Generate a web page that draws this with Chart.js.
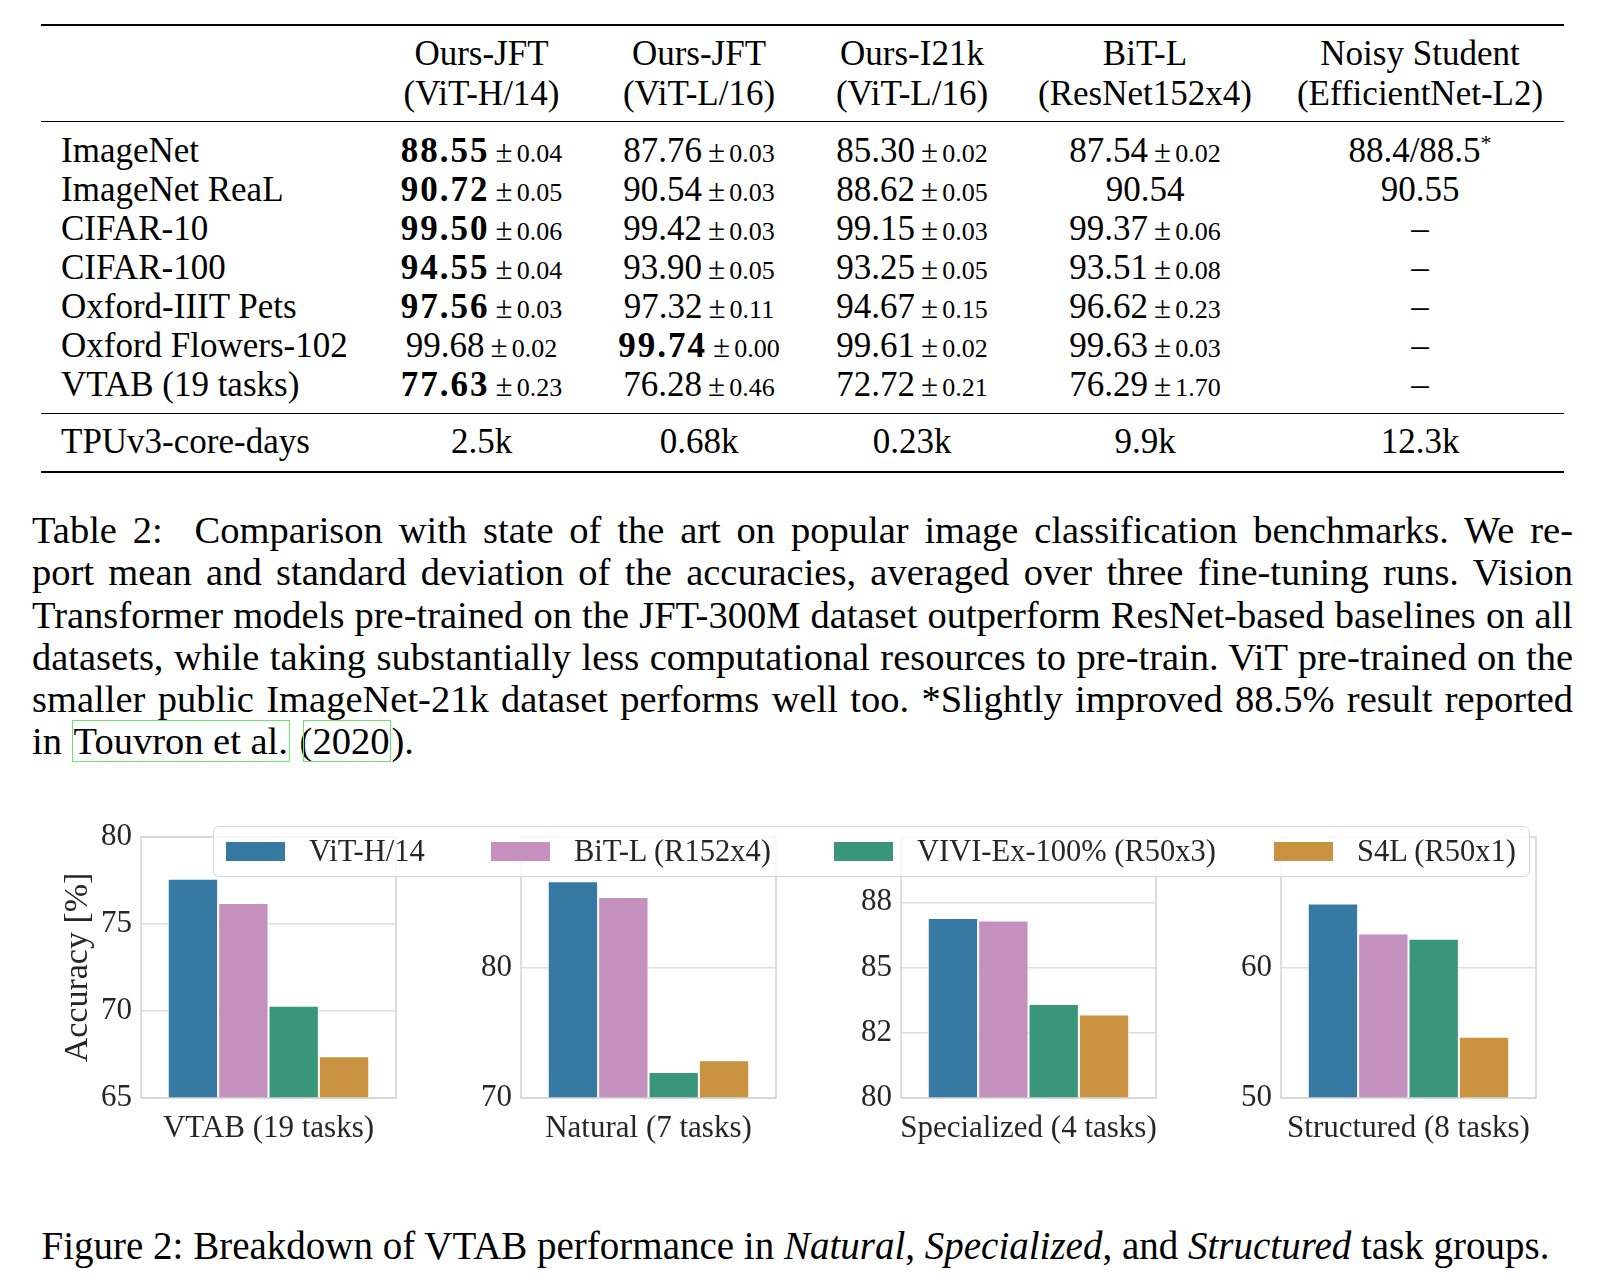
<!DOCTYPE html>
<html>
<head>
<meta charset="utf-8">
<script src="https://cdn.jsdelivr.net/npm/chart.js@4.4.1/dist/chart.umd.min.js"></script>
<style>
  html, body { margin: 0; padding: 0; background: #fff; }
  body { position: relative; width: 1610px; height: 1274px; overflow: hidden;
         font-family: "Liberation Serif", "DejaVu Serif", serif; color: #000; }
  .rule { position: absolute; left: 41px; width: 1523px; height: 1.3px; background: #000; }
  .rule.thick { height: 2px; }
  .row { position: absolute; left: 41px; width: 1523px; height: 39px; line-height: 39px;
         font-size: 35px; display: flex; white-space: nowrap; }
  .row > div { text-align: center; flex: none; }
  .row > div:nth-child(1) { width: 334px; text-align: left; padding-left: 20px; box-sizing: border-box; }
  .row > div:nth-child(2) { width: 213px; }
  .row > div:nth-child(3) { width: 222px; }
  .row > div:nth-child(4) { width: 204px; }
  .row > div:nth-child(5) { width: 262px; }
  .row > div:nth-child(6) { width: 288px; }
  .sd { font-size: 26px; margin-left: 6px; }
  .pm { font-size: 31px; margin-right: 4px; }
  b { letter-spacing: 2px; }
  sup { font-size: 22px; vertical-align: 12px; line-height: 0; }
  .cap { position: absolute; left: 32px; width: 1541px; font-size: 38.5px; word-spacing: -3px; }
  .cap div { height: 42.3px; line-height: 42.3px; text-align: justify; text-align-last: justify; }
  .cap div.last { text-align-last: left; word-spacing: 0; }
  .cite { outline: 1.5px solid #6ee36e; outline-offset: -1px; padding: 0 2px; }
  #figcap { position: absolute; left: 0; width: 1591px; top: 1225px; text-align: center;
            font-size: 39px; line-height: 42px; white-space: nowrap; }
  .plot { position: absolute; }
  #legend { position: absolute; left: 213px; top: 826px; width: 1317px; height: 51px;
            box-sizing: border-box; border: 1.5px solid #d6d6d6; border-radius: 6px;
            background: rgba(255,255,255,0.8); display: flex; align-items: center;
            padding-left: 12px; z-index: 2; font-size: 30.5px; color: #262626; white-space: nowrap; }
  #legend .item { display: flex; align-items: center; flex: none; }
  #legend .item:nth-child(1) { width: 265px; }
  #legend .item:nth-child(2) { width: 343px; }
  #legend .item:nth-child(3) { width: 440px; }
  #legend .patch { width: 59px; height: 19px; margin-right: 24px; }
</style>
</head>
<body>

<div class="rule thick" style="top:24px"></div>
<div class="row" style="top:34px"><div></div><div>Ours-JFT</div><div>Ours-JFT</div><div>Ours-I21k</div><div>BiT-L</div><div>Noisy Student</div></div>
<div class="row" style="top:74px"><div></div><div>(ViT-H/14)</div><div>(ViT-L/16)</div><div>(ViT-L/16)</div><div>(ResNet152x4)</div><div>(EfficientNet-L2)</div></div>
<div class="rule" style="top:121px"></div>
<div id="tbody"></div>
<div class="rule" style="top:412.5px"></div>
<div class="row" style="top:422px"><div>TPUv3-core-days</div><div>2.5k</div><div>0.68k</div><div>0.23k</div><div>9.9k</div><div>12.3k</div></div>
<div class="rule thick" style="top:470.5px"></div>

<div class="cap" style="top:509px">
  <div>Table 2:<span style="margin-left:16px"></span> Comparison with state of the art on popular image classification benchmarks. We re-</div>
  <div>port mean and standard deviation of the accuracies, averaged over three fine-tuning runs. Vision</div>
  <div>Transformer models pre-trained on the JFT-300M dataset outperform ResNet-based baselines on all</div>
  <div>datasets, while taking substantially less computational resources to pre-train. ViT pre-trained on the</div>
  <div>smaller public ImageNet-21k dataset performs well too. *Slightly improved 88.5% result reported</div>
  <div class="last">in <span class="cite">Touvron et al.</span> (<span class="cite" style="margin-left:-9px;padding-left:9px">2020</span>).</div>
</div>

<div id="legend"></div>
<div id="plots"></div>

<div id="figcap">Figure 2: Breakdown of VTAB performance in <i>Natural</i>, <i>Specialized</i>, and <i>Structured</i> task groups.</div>

<script>
// Table 2 rows: [name, ...cells]; cell = [mean, sd, bold]
const tableRows = [
  ['ImageNet',            ['88.55', '0.04', 1], ['87.76', '0.03'], ['85.30', '0.02'], ['87.54', '0.02'], '88.4/88.5<sup>*</sup>'],
  ['ImageNet ReaL',       ['90.72', '0.05', 1], ['90.54', '0.03'], ['88.62', '0.05'], '90.54', '90.55'],
  ['CIFAR-10',            ['99.50', '0.06', 1], ['99.42', '0.03'], ['99.15', '0.03'], ['99.37', '0.06'], '–'],
  ['CIFAR-100',           ['94.55', '0.04', 1], ['93.90', '0.05'], ['93.25', '0.05'], ['93.51', '0.08'], '–'],
  ['Oxford-IIIT Pets',    ['97.56', '0.03', 1], ['97.32', '0.11'], ['94.67', '0.15'], ['96.62', '0.23'], '–'],
  ['Oxford Flowers-102',  ['99.68', '0.02'], ['99.74', '0.00', 1], ['99.61', '0.02'], ['99.63', '0.03'], '–'],
  ['VTAB (19 tasks)',     ['77.63', '0.23', 1], ['76.28', '0.46'], ['72.72', '0.21'], ['76.29', '1.70'], '–'],
];

// Figure 2 data
const groups = ['VTAB (19 tasks)', 'Natural (7 tasks)', 'Specialized (4 tasks)', 'Structured (8 tasks)'];
const models = ['ViT-H/14', 'BiT-L (R152x4)', 'VIVI-Ex-100% (R50x3)', 'S4L (R50x1)'];
const colors = ['#3679a3', '#c490bd', '#3a967a', '#c89240'];
const vitH = [77.6, 86.6, 86.9, 64.9];
const bitL = [76.2, 85.4, 86.8, 62.6];
const vivi = [70.3, 72.0, 83.6, 62.2];
const s4l  = [67.4, 72.9, 83.2, 54.7];
const yMin = [65, 70, 80, 50];
const yMax = [80, 90, 90, 70];
const yTicks = [[65, 70, 75, 80], [70, 80], [80, 82.5, 85, 87.5], [50, 60]];
const yTickLabels = [['65', '70', '75', '80'], ['70', '80'], ['80', '82', '85', '88'], ['50', '60']];
const series = [vitH, bitL, vivi, s4l];

// table body
const tbody = document.getElementById('tbody');
tableRows.forEach((r, i) => {
  const row = document.createElement('div');
  row.className = 'row';
  row.style.top = (130.5 + 39 * i) + 'px';
  row.innerHTML = r.map((c, j) => {
    if (j === 0 || typeof c === 'string') return `<div>${c}</div>`;
    const mean = c[2] ? `<b>${c[0]}</b>` : c[0];
    return `<div>${mean}<span class="sd"><span class="pm">±</span>${c[1]}</span></div>`;
  }).join('');
  tbody.appendChild(row);
});

// legend
document.getElementById('legend').innerHTML = models.map((m, k) =>
  `<div class="item"><div class="patch" style="background:${colors[k]}"></div>${m}</div>`).join('');

Chart.defaults.font.family = '"Liberation Serif", "DejaVu Serif", serif';
Chart.defaults.color = '#262626';

const frame = {
  id: 'frame',
  afterDatasetsDraw(chart) {
    const { ctx, chartArea: a } = chart;
    ctx.save();
    ctx.strokeStyle = '#d4d4d4';
    ctx.lineWidth = 1.5;
    ctx.strokeRect(a.left, a.top, a.right - a.left, a.bottom - a.top);
    ctx.restore();
  },
};

const plotLefts = [141, 521, 901, 1281];
const plotW = 255, plotH = 261, plotTop = 837;
const axisW = 100, padTop = 40, padRight = 45, axisH = 50;

groups.forEach((g, i) => {
  const canvas = document.createElement('canvas');
  canvas.className = 'plot';
  canvas.width = axisW + plotW + padRight;
  canvas.height = padTop + plotH + axisH;
  canvas.style.left = (plotLefts[i] - axisW) + 'px';
  canvas.style.top = (plotTop - padTop) + 'px';
  document.getElementById('plots').appendChild(canvas);

  new Chart(canvas, {
    type: 'bar',
    data: {
      labels: [g],
      datasets: models.map((m, k) => ({
        label: m,
        data: [series[k][i]],
        backgroundColor: colors[k],
        borderColor: '#ffffff',
        borderWidth: 1,
        categoryPercentage: 0.79,
        barPercentage: 1,
      })),
    },
    options: {
      responsive: false,
      animation: false,
      devicePixelRatio: 1,
      layout: { padding: { top: padTop, right: padRight, left: 0, bottom: 0 } },
      plugins: { legend: { display: false }, tooltip: { enabled: false } },
      scales: {
        x: {
          grid: { display: false },
          border: { display: false },
          ticks: { font: { size: 31 }, color: '#262626', padding: 4, maxRotation: 0 },
          afterFit: (s) => { s.height = axisH; },
        },
        y: {
          min: yMin[i],
          max: yMax[i],
          grid: { color: '#dddddd', lineWidth: 1.5, drawTicks: false },
          border: { display: false },
          afterBuildTicks: (s) => { s.ticks = yTicks[i].map(v => ({ value: v })); },
          ticks: {
            font: { size: 31 },
            color: '#262626',
            padding: 9,
            callback: (v) => yTickLabels[i][yTicks[i].indexOf(v)],
          },
          title: {
            display: i === 0,
            text: 'Accuracy [%]',
            font: { size: 34 },
            color: '#262626',
            padding: { top: 17, bottom: 0 },
          },
          afterFit: (s) => { s.width = axisW; },
        },
      },
    },
    plugins: [frame],
  });
});
</script>
</body>
</html>
